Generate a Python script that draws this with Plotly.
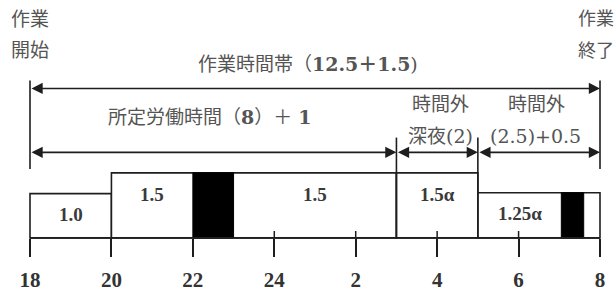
import plotly.graph_objects as go

# ---- data (hours on a continuous clock: 24 = midnight, 32 = 8 am) ----
seg_start = [18, 20, 27, 29]
seg_end = [20, 27, 29, 32]
seg_height = [1.0, 1.47, 1.47, 1.02]          # relative bar heights as drawn
seg_label = ["1.0", "1.5", "1.5α", "1.25α"]

break_start = [22, 31.05]
break_end = [23, 31.6]

tick_vals = [18, 20, 22, 24, 26, 28, 30, 32]
tick_text = ["18", "20", "22", "24", "2", "4", "6", "8"]

work_span = [18, 32]
work_label = "作業時間帯（<b>12.5＋1.5</b>)"
shift_bounds = [18, 27, 29, 32]

# ---- geometry helpers (layout only) ----
W, H = 615, 292
BASE_PX = 242          # pixel row of the baseline
UNIT_PX = 45           # pixels per height unit
L_PX, R_PX = 30, 600   # pixel columns of 18h and 32h
ppu = (R_PX - L_PX) / (work_span[1] - work_span[0])
x_range = [work_span[0] - L_PX / ppu, work_span[0] + (W - L_PX) / ppu]
y_range = [(BASE_PX - H) / UNIT_PX, BASE_PX / UNIT_PX]


def yu(py):
    return (BASE_PX - py) / UNIT_PX


def xp(px):
    return px / W


def yp(py):
    return 1 - py / H


LINE = "#1e1e1e"
TXT = "#555555"
CJK = "DejaVu Serif, Noto Sans CJK JP"
NUM = "Liberation Serif"

fig = go.Figure()

# white rate bars
fig.add_trace(go.Bar(
    x=[(a + b) / 2 for a, b in zip(seg_start, seg_end)],
    width=[b - a for a, b in zip(seg_start, seg_end)],
    y=seg_height, base=0,
    marker=dict(color="white", line=dict(color=LINE, width=1.6)),
    hoverinfo="skip", showlegend=False,
))

# black break blocks: height of the segment they sit in
brk_h = []
for bs in break_start:
    for a, b, h in zip(seg_start, seg_end, seg_height):
        if a <= bs < b:
            brk_h.append(h)
fig.add_trace(go.Bar(
    x=[(a + b) / 2 for a, b in zip(break_start, break_end)],
    width=[b - a for a, b in zip(break_start, break_end)],
    y=brk_h, base=0,
    marker=dict(color="black", line=dict(color="black", width=1)),
    hoverinfo="skip", showlegend=False,
))

shapes = []
annotations = []

# baseline
shapes.append(dict(type="line", xref="x", yref="y", x0=work_span[0], x1=work_span[1],
                   y0=0, y1=0, line=dict(color=LINE, width=1.6)))

# tick marks that cross the baseline (not at a bar edge / block edge)
edges = set(seg_start) | set(seg_end) | set(break_start)
for tv in tick_vals:
    if tv not in edges:
        shapes.append(dict(type="line", xref="x", yref="y", x0=tv, x1=tv,
                           y0=0, y1=yu(235), line=dict(color=LINE, width=1.5)))

# vertical guide lines at work start / end (top part)
for xv in work_span:
    shapes.append(dict(type="line", xref="x", yref="y", x0=xv, x1=xv,
                       y0=yu(82), y1=yu(172), line=dict(color=LINE, width=1.6)))
# inner shift boundaries go up from baseline
for xv in shift_bounds[1:-1]:
    shapes.append(dict(type="line", xref="x", yref="y", x0=xv, x1=xv,
                       y0=0, y1=yu(140), line=dict(color=LINE, width=1.6)))


def arrow(x0, x1, y):
    annotations.append(dict(
        x=x1, y=y, ax=x0, ay=y, xref="x", yref="y", axref="x", ayref="y",
        text="", showarrow=True, arrowhead=2, arrowside="end+start",
        arrowsize=1.4, arrowwidth=1.6, arrowcolor=LINE, standoff=0, startstandoff=0,
    ))


arrow(work_span[0], work_span[1], yu(90))
for a, b in zip(shift_bounds[:-1], shift_bounds[1:]):
    arrow(a, b, yu(155))


def text(s, px, py, size=19, anchor="center", family=CJK, color=TXT):
    annotations.append(dict(
        x=xp(px), y=yp(py), xref="paper", yref="paper", text=s, showarrow=False,
        xanchor=anchor, yanchor="middle", font=dict(family=family, size=size, color=color),
    ))


text("作業", 9, 19, anchor="left")
text("開始", 9, 51, anchor="left")
text("作業", 576, 19, size=18, anchor="left")
text("終了", 576, 51, size=18, anchor="left")
text(work_label, 308, 65)
text("所定労働時間（<b>8</b>）＋ <b>1</b>", 210, 119)
text("時間外", 440, 106)
text("深夜(2)", 440, 138)
text("時間外", 536, 106)
text("(2.5)+0.5", 535, 138)

# rate labels centred in the white sub-spans of each segment
for a, b, h, lab in zip(seg_start, seg_end, seg_height, seg_label):
    pieces = [(a, b)]
    for bs, be in zip(break_start, break_end):
        new = []
        for p0, p1 in pieces:
            if p0 < bs < p1:
                new += [(p0, bs), (be, p1)]
            else:
                new.append((p0, p1))
        pieces = new
    for p0, p1 in pieces:
        if p1 - p0 >= 1:
            annotations.append(dict(
                x=(p0 + p1) / 2, y=h - 0.48, xref="x", yref="y", text=lab,
                showarrow=False, xanchor="center", yanchor="middle",
                font=dict(family=NUM, size=19, color="#3a3a3a", weight="bold"),
            ))

fig.update_layout(
    width=W, height=H, margin=dict(l=0, r=0, t=0, b=0),
    paper_bgcolor="white", plot_bgcolor="white", barmode="overlay",
    shapes=shapes, annotations=annotations,
    xaxis=dict(range=x_range, anchor="free", position=(H - BASE_PX) / H,
               tickvals=tick_vals, ticktext=tick_text, ticks="outside", ticklen=18,
               tickwidth=1.5, tickcolor=LINE, showline=False, showgrid=False,
               zeroline=False, ticklabelstandoff=5,
               tickfont=dict(family=NUM, size=21, color="#333333", weight="bold")),
    yaxis=dict(range=y_range, visible=False, showgrid=False, zeroline=False),
)

fig.write_html("out.html", config={"displayModeBar": False},
               post_script="document.body.style.margin='0';document.body.style.padding='0';")
